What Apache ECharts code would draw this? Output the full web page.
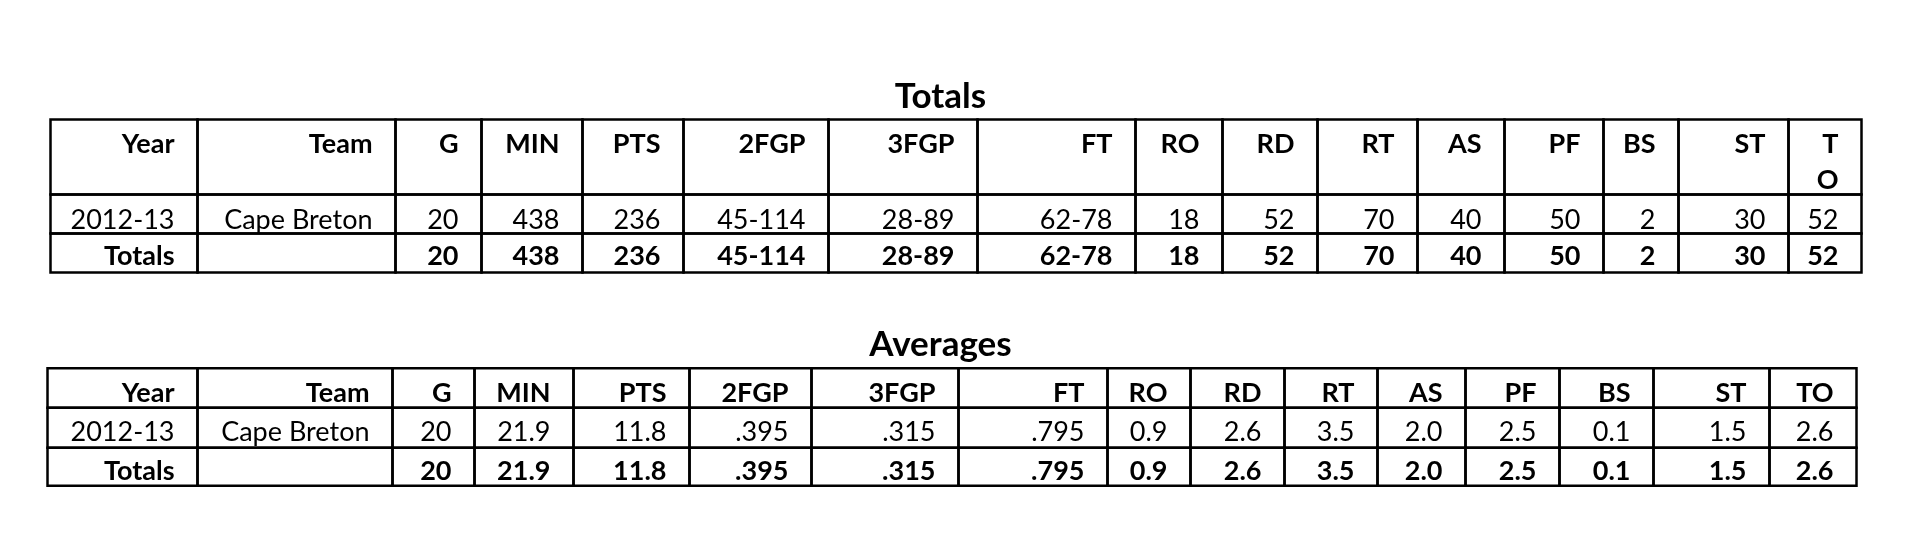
<!DOCTYPE html>
<html>
<head>
<meta charset="utf-8">
<script src="https://cdn.jsdelivr.net/npm/echarts@6/dist/echarts.min.js"></script>
<style>
  html, body { margin: 0; padding: 0; background: #ffffff; }
  #chart { width: 1920px; height: 556px; }
</style>
</head>
<body>
<div id="chart"></div>
<script>
// ---------------- DATA ----------------
const totalsTitle = 'Totals';
const averagesTitle = 'Averages';

const totalsHeaders = ['Year', 'Team', 'G', 'MIN', 'PTS', '2FGP', '3FGP', 'FT', 'RO', 'RD', 'RT', 'AS', 'PF', 'BS', 'ST', 'T\nO'];
const totalsSeason  = ['2012-13', 'Cape Breton', '20', '438', '236', '45-114', '28-89', '62-78', '18', '52', '70', '40', '50', '2', '30', '52'];
const totalsSum     = ['Totals', '', '20', '438', '236', '45-114', '28-89', '62-78', '18', '52', '70', '40', '50', '2', '30', '52'];

const averagesHeaders = ['Year', 'Team', 'G', 'MIN', 'PTS', '2FGP', '3FGP', 'FT', 'RO', 'RD', 'RT', 'AS', 'PF', 'BS', 'ST', 'TO'];
const averagesSeason  = ['2012-13', 'Cape Breton', '20', '21.9', '11.8', '.395', '.315', '.795', '0.9', '2.6', '3.5', '2.0', '2.5', '0.1', '1.5', '2.6'];
const averagesSum     = ['Totals', '', '20', '21.9', '11.8', '.395', '.315', '.795', '0.9', '2.6', '3.5', '2.0', '2.5', '0.1', '1.5', '2.6'];

// ---------------- LAYOUT ----------------
const FONT = 'Lato';
const CELL_FONT_SIZE = 27;
const TITLE_FONT_SIZE = 35;
const LINE_HEIGHT = 36;
const PAD_RIGHT = 23;
const BORDER = 2.5;

const layouts = [
  {
    left: 50.5, top: 119.5,
    colEdges: [0, 147, 345, 431, 532, 633, 778, 927, 1085, 1172, 1267, 1367, 1454, 1553, 1628, 1738, 1811],
    rowEdges: [0, 75, 114, 153],
    textOffset: [24.5, 25.5, 22.5],
    titleY: 96.7
  },
  {
    left: 47.5, top: 368.3,
    colEdges: [0, 150, 345, 427, 526, 642, 764, 911, 1060, 1143, 1237, 1330, 1418, 1512, 1606, 1722, 1809],
    rowEdges: [0, 39.5, 79.5, 117.5],
    textOffset: [24.8, 24.5, 23.5],
    titleY: 345.2
  }
];
const TITLE_X = 940.5;

function buildCells(rows) {
  const cells = [];
  rows.forEach(function (row, r) {
    row.forEach(function (txt, c) {
      cells.push({ col: c, row: r, text: txt, bold: r !== 1 });
    });
  });
  return cells;
}

const tables = [
  buildCells([totalsHeaders, totalsSeason, totalsSum]),
  buildCells([averagesHeaders, averagesSeason, averagesSum])
];

function makeRender(li) {
  const L = layouts[li];
  const cells = tables[li];
  return function (params, api) {
    const col = api.value(0);
    const row = api.value(1);
    const cell = cells[params.dataIndex];
    const p0 = api.coord([L.colEdges[col], L.rowEdges[row]]);
    const p1 = api.coord([L.colEdges[col + 1], L.rowEdges[row + 1]]);
    const children = [{
      type: 'rect',
      shape: { x: p0[0], y: p0[1], width: p1[0] - p0[0], height: p1[1] - p0[1] },
      style: { fill: 'none', stroke: '#000000', lineWidth: BORDER }
    }];
    if (cell.text) {
      const nLines = cell.text.split('\n').length;
      children.push({
        type: 'text',
        x: p1[0] - PAD_RIGHT,
        y: p0[1] + L.textOffset[row] + (nLines - 1) * LINE_HEIGHT / 2,
        style: {
          text: cell.text,
          align: 'right',
          verticalAlign: 'middle',
          fill: '#000000',
          fontFamily: FONT,
          fontSize: CELL_FONT_SIZE,
          fontWeight: cell.bold ? 'bold' : 'normal',
          lineHeight: LINE_HEIGHT
        }
      });
    }
    return { type: 'group', children: children };
  };
}

const chart = echarts.init(document.getElementById('chart'), null, { renderer: 'canvas' });

const option = {
  backgroundColor: '#ffffff',
  animation: false,
  title: [
    {
      text: totalsTitle, left: TITLE_X, top: layouts[0].titleY, padding: 0,
      textAlign: 'center', textVerticalAlign: 'middle',
      textStyle: { fontFamily: FONT, fontSize: TITLE_FONT_SIZE, fontWeight: 'bold', color: '#000000' }
    },
    {
      text: averagesTitle, left: TITLE_X, top: layouts[1].titleY, padding: 0,
      textAlign: 'center', textVerticalAlign: 'middle',
      textStyle: { fontFamily: FONT, fontSize: TITLE_FONT_SIZE, fontWeight: 'bold', color: '#000000' }
    }
  ],
  grid: layouts.map(function (L) {
    return {
      left: L.left, top: L.top,
      width: L.colEdges[L.colEdges.length - 1],
      height: L.rowEdges[L.rowEdges.length - 1],
      show: false
    };
  }),
  xAxis: layouts.map(function (L, i) {
    return { gridIndex: i, type: 'value', min: 0, max: L.colEdges[L.colEdges.length - 1], show: false };
  }),
  yAxis: layouts.map(function (L, i) {
    return { gridIndex: i, type: 'value', min: 0, max: L.rowEdges[L.rowEdges.length - 1], inverse: true, show: false };
  }),
  series: tables.map(function (cells, i) {
    return {
      type: 'custom',
      xAxisIndex: i,
      yAxisIndex: i,
      silent: true,
      renderItem: makeRender(i),
      data: cells.map(function (c) { return [c.col, c.row]; })
    };
  })
};

chart.setOption(option);
</script>
</body>
</html>
